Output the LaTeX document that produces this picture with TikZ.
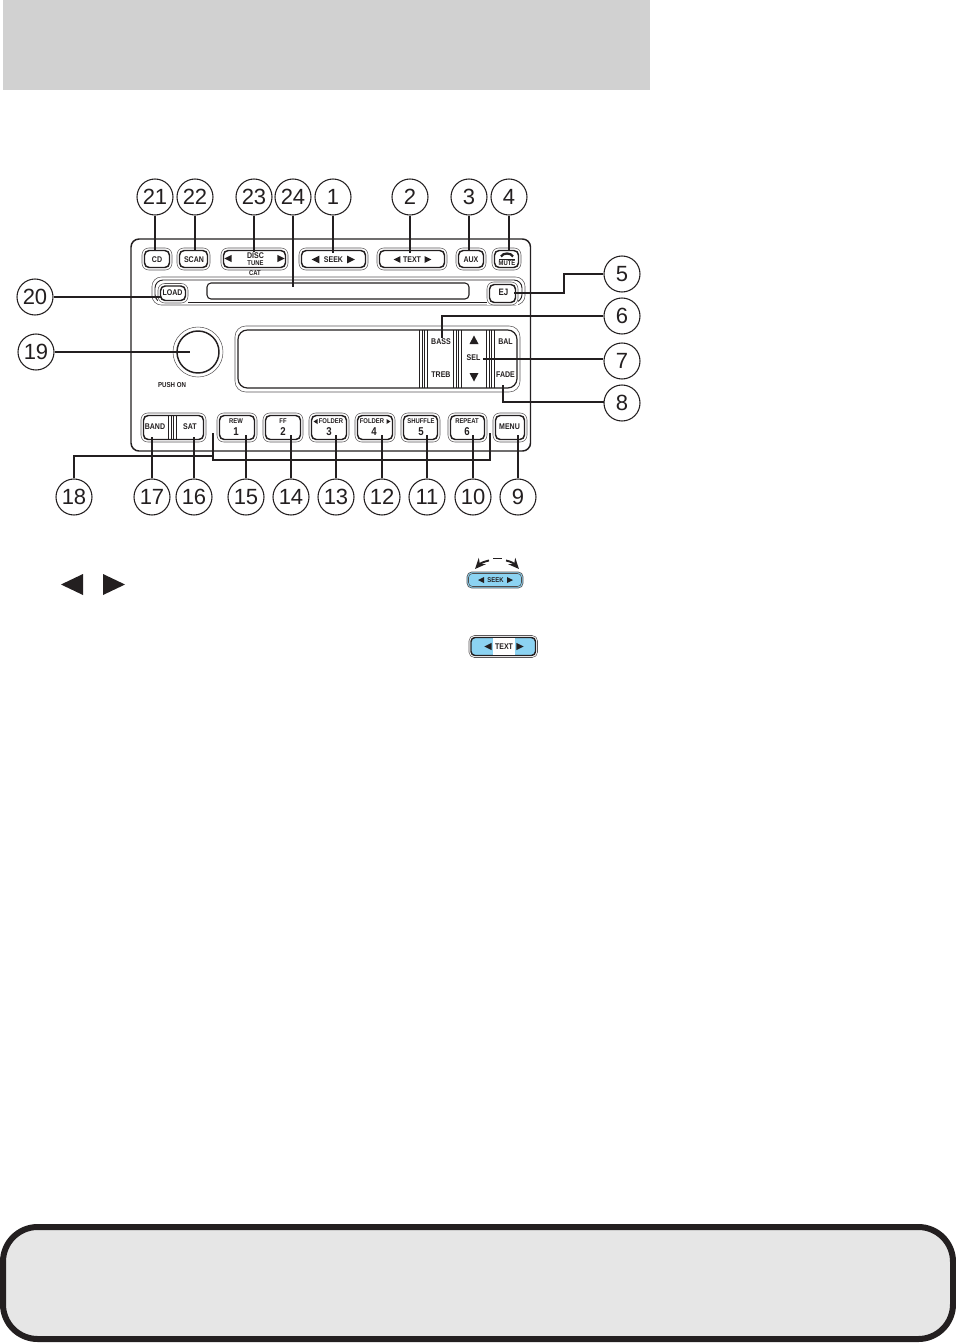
\documentclass[tikz,border=0pt]{standalone}
\usepackage{fontspec}
\setmainfont{Liberation Sans}
\newfontfamily\cond[FakeStretch=0.85]{Liberation Sans}
\usetikzlibrary{arrows.meta}
\definecolor{ink}{HTML}{231F20}
\definecolor{band}{HTML}{D1D1D1}
\definecolor{foot}{HTML}{E6E6E6}
\definecolor{sky}{HTML}{8CD3F2}
\tikzset{
  callout/.style={draw=ink,line width=.8pt,circle,minimum size=27pt,inner sep=0pt,fill=white,text=ink,font=\fontsize{16.5}{16.5}\selectfont},
  lead/.style={draw=ink,line width=.8pt},
  leadthick/.style={draw=ink,line width=1.5pt},
  btnouter/.style={draw=ink!75,line width=.4pt,rounded corners=5pt},
  btninner/.style={draw=ink,line width=1.1pt,rounded corners=3.5pt},
  lbl/.style={inner sep=0pt,text=ink,font=\cond\fontsize{6.2}{6.2}\selectfont\bfseries},
  lblbig/.style={inner sep=0pt,text=ink,font=\cond\fontsize{8.5}{8.5}\selectfont\bfseries},
  tiny/.style={inner sep=0pt,text=ink,font=\cond\fontsize{5.2}{5.2}\selectfont\bfseries},
  panel/.style={draw=ink,line width=1.1pt,rounded corners=6pt},
}
\newcommand{\btn}[5]{%
  \draw[btnouter] (#2,#3) rectangle (#4,#5);
  \draw[btninner] ({#2+2.5},{#3+2.5}) rectangle ({#4-2.5},{#5-2.5});
  \coordinate (#1) at ({(#2+#4)/2},{(#3+#5)/2});}
\newcommand{\ltri}[3]{\fill[ink] ({#1-#3},#2) -- ({#1+#3},{#2-#3}) -- ({#1+#3},{#2+#3}) -- cycle;}
\newcommand{\rtri}[3]{\fill[ink] ({#1+#3},#2) -- ({#1-#3},{#2-#3}) -- ({#1-#3},{#2+#3}) -- cycle;}
\newcommand{\triple}[2]{\foreach \k in {0,2.6,5.2,7.8}{\draw[ink,line width=.6pt] ({#1+\k},#2) -- ({#1+\k},388);}}
\begin{document}
\begin{tikzpicture}[x=.75pt,y=-.75pt]
\useasboundingbox (0,0) rectangle (956,1343);
\fill[white] (0,0) rectangle (956,1343);
\fill[band] (3,0) rectangle (650,90);
\draw[draw=ink,fill=foot,line width=4.5pt,rounded corners=26pt] (3,1227) rectangle (953,1339);
% radio body
\draw[panel] (131,239) rectangle (530.5,451);
% slot band
\draw[btnouter,rounded corners=7pt] (152,277) rectangle (525,305);
\draw[draw=ink,line width=.7pt,rounded corners=6pt] (155,280) rectangle (522,302.5);
\draw[draw=ink,line width=.8pt,rounded corners=3pt] (207,283) rectangle (469,299);
% top row
\btn{cd}{142}{248}{172}{270}
\btn{scan}{177}{248}{210}{270}
\btn{disc}{221}{248}{288}{270}
\btn{seek}{299}{248}{368}{270}
\btn{text}{377}{248}{447}{270}
\btn{aux}{456}{248}{486}{270}
\btn{mute}{492}{248}{521}{270}
\fill[white] (158,284) rectangle (188,303);
\btn{load}{158}{283.5}{188}{303}
\fill[white] (487,282) rectangle (518,305);
\btn{ej}{487}{282}{518}{305}
\node[lbl] (tcd) at (157,259.5) {CD};
\node[lbl] (tscan) at (194,259.5) {SCAN};
\node[lbl] (tdisc) at (255.5,255.5) {DISC};
\node[tiny] (ttune) at (255.5,263.5) {TUNE};
\node[tiny] (tcat) at (255,273.5) {CAT};
\ltri{228}{258.5}{3.6}\rtri{281}{258.5}{3.6}
\node[lbl] (tseek) at (333.5,259.5) {SEEK};
\ltri{315.5}{259.5}{3.8}\rtri{351}{259.5}{3.8}
\node[lbl] (ttext) at (412,259.5) {TEXT};
\ltri{397}{259.5}{3.4}\rtri{428}{259.5}{3.4}
\node[lbl] (taux) at (471,259.5) {AUX};
\node[tiny] (tmute) at (507,263.5) {MUTE};
\draw[ink,line width=.5pt] (499,259) -- (515,259);
\draw[ink,line width=1.7pt] (501,256.5) .. controls (503,252.5) and (511,252.5) .. (513,256.5);
\node[lbl] (tload) at (172.5,292.5) {LOAD};
\node[lblbig,font=\cond\fontsize{7}{7}\selectfont\bfseries] (tej) at (503.5,292.5) {EJ};
% knob
\node[draw=ink!75,line width=.4pt,circle,minimum size=37.5pt,inner sep=0pt] (knob) at (198,352) {};
\node[draw=ink,line width=1.1pt,circle,minimum size=31.5pt,inner sep=0pt] (knobin) at (198,352) {};
\node[tiny,font=\cond\fontsize{5.4}{5.4}\selectfont\bfseries] (tpush) at (172,385) {PUSH ON};
% display
\draw[btnouter,rounded corners=8pt] (235,326) rectangle (520,392);
\draw[btninner,rounded corners=7pt,line width=.9pt] (238,330) rectangle (517,388);
\triple{419.5}{330}\triple{453.5}{330}\triple{486.5}{330}
\node[lbl] (tbass) at (441,342) {BASS};
\node[lbl] (ttreb) at (441,375) {TREB};
\node[lbl] (tsel) at (473.5,358) {SEL};
\node[lbl] (tbal) at (505.5,342) {BAL};
\node[lbl] (tfade) at (505.5,375) {FADE};
\fill[ink] (474,335.5) -- (478.5,344) -- (469.5,344) -- cycle;
\fill[ink] (474,381.5) -- (478.5,373) -- (469.5,373) -- cycle;
% bottom row
\btn{bs}{141}{413}{206}{442}
\foreach \k in {0,2.6,5.2,7.8}{\draw[ink,line width=.6pt] ({168.5+\k},415.5) -- ({168.5+\k},439.5);}
\node[lbl] (tband) at (155,427) {BAND};
\node[lbl] (tsat) at (190,427) {SAT};
\btn{rew}{217}{413}{257}{442}
\btn{ff}{263}{413}{303}{442}
\btn{fol3}{309}{413}{349}{442}
\btn{fol4}{355}{413}{395}{442}
\btn{shuf}{401}{413}{440}{442}
\btn{rep}{448}{413}{487}{442}
\btn{menu}{493}{413}{527}{442}
\node[lbl] (tmenu) at (509.5,426.5) {MENU};
\node[tiny] (trew) at (236,421.5) {REW};
\node[lblbig] (t1) at (236,431.5) {1};
\node[tiny] (tff) at (283,421.5) {FF};
\node[lblbig] (t2) at (283,431.5) {2};
\node[tiny] (tf3) at (331,421.5) {FOLDER};
\fill[ink] (313.5,421.5) -- (317.5,419) -- (317.5,424) -- cycle;
\node[lblbig] (t3) at (329,431.5) {3};
\node[tiny] (tf4) at (372,421.5) {FOLDER};
\fill[ink] (390.5,421.5) -- (386.5,419) -- (386.5,424) -- cycle;
\node[lblbig] (t4) at (374,431.5) {4};
\node[tiny] (tshuf) at (421,421.5) {SHUFFLE};
\node[lblbig] (t5) at (421,431.5) {5};
\node[tiny] (trep) at (467,421.5) {REPEAT};
\node[lblbig] (t6) at (467,431.5) {6};
% callouts
\node[callout] (c21) at (155,197) {21};
\node[callout] (c22) at (195,197) {22};
\node[callout] (c23) at (254,197) {23};
\node[callout] (c24) at (293,197) {24};
\node[callout] (c1) at (333,197) {1};
\node[callout] (c2) at (410,197) {2};
\node[callout] (c3) at (469,197) {3};
\node[callout] (c4) at (509,197) {4};
\node[callout] (c5) at (622,274) {5};
\node[callout] (c6) at (622,316) {6};
\node[callout] (c7) at (622,361) {7};
\node[callout] (c8) at (622,403) {8};
\node[callout] (c20) at (35,297) {20};
\node[callout] (c19) at (36,352) {19};
\node[callout] (c18) at (74,497) {18};
\node[callout] (c17) at (152,497) {17};
\node[callout] (c16) at (194,497) {16};
\node[callout] (c15) at (246,497) {15};
\node[callout] (c14) at (291,497) {14};
\node[callout] (c13) at (336,497) {13};
\node[callout] (c12) at (382,497) {12};
\node[callout] (c11) at (427,497) {11};
\node[callout] (c10) at (473,497) {10};
\node[callout] (c9) at (518,497) {9};
% leader ends
\coordinate (e21) at (155,250);\coordinate (e22) at (195,250);\coordinate (e23) at (254,252);
\coordinate (e24) at (293,287);\coordinate (e1) at (333,253);\coordinate (e2) at (410,253);
\coordinate (e3) at (469,250);\coordinate (e4) at (509,250);
\coordinate (e5) at (514,293);\coordinate (e6) at (442,338);\coordinate (e7) at (483,359);
\coordinate (e8) at (503,385);\coordinate (e20) at (161,297);\coordinate (e19) at (190,352);
\foreach \n in {21,22,23,24,1,2,3,4}{\draw[lead] (c\n) -- (e\n);}
\draw[leadthick] (c5) -- (564,274) -- (564,293) -- (e5);
\draw[lead] (c6) -- (442,316) -- (e6);
\draw[lead] (603,359) -- (e7);
\draw[leadthick] (604,401.5) -- (503,401.5) -- (e8);
\draw[lead] (c20) -- (e20);
\draw[lead] (c19) -- (e19);
\draw[leadthick] (c18) -- (74,456) -- (213,456);
\draw[lead] (213,433) -- (213,460) -- (490,460) -- (490,433);
\coordinate (e17) at (152,437);\coordinate (e16) at (194,437);\coordinate (e15) at (246,435);
\coordinate (e14) at (291,435);\coordinate (e13) at (336,435);\coordinate (e12) at (382,435);
\coordinate (e11) at (427,435);\coordinate (e10) at (473,435);\coordinate (e9) at (518,435);
\draw[leadthick] (c17) -- (e17);
\draw[lead] (c16) -- (e16);
\draw[leadthick] (c15) -- (e15);
\draw[leadthick] (c14) -- (e14);
\draw[lead] (c13) -- (e13);
\draw[lead] (c12) -- (e12);
\draw[leadthick] (c11) -- (e11);
\draw[lead] (c10) -- (e10);
\draw[lead] (c9) -- (e9);
% text body glyphs
\fill[ink] (61,584.5) -- (83,574) -- (83,595) -- cycle;
\fill[ink] (125,584.5) -- (103,574) -- (103,595) -- cycle;
% seek icon
\draw[draw=ink!75,fill=sky,line width=.5pt,rounded corners=3.5pt] (467,572) rectangle (523,588);
\draw[ink!80,line width=.4pt,rounded corners=3pt] (468.5,573.5) rectangle (521.5,586.5);
\node[tiny] (iseek) at (495.5,580) {SEEK};
\ltri{481}{580}{3}\rtri{510}{580}{3}
\draw[ink,line width=1.4pt,-{Stealth[length=8pt,width=7pt]}] (489,560.5) .. controls (484,561.5) and (480,563.5) .. (475,569);
\draw[ink,line width=1.4pt] (493,558.5) -- (502,558.5);
\draw[ink,line width=1.4pt,-{Stealth[length=8pt,width=7pt]}] (506,560.5) .. controls (511,561.5) and (514,563.5) .. (519,569);
% text icon
\draw[draw=ink!75,line width=.4pt,rounded corners=4pt] (469,635.5) rectangle (537.5,657.5);
\draw[draw=ink,fill=sky,line width=1.1pt,rounded corners=3pt] (471,637.5) rectangle (535.5,655.5);
\fill[white] (493,638) rectangle (515,655);
\node[lbl] (itext) at (504,646.5) {TEXT};
\ltri{488}{646.5}{3.6}\rtri{520}{646.5}{3.6}
\end{tikzpicture}
\end{document}
